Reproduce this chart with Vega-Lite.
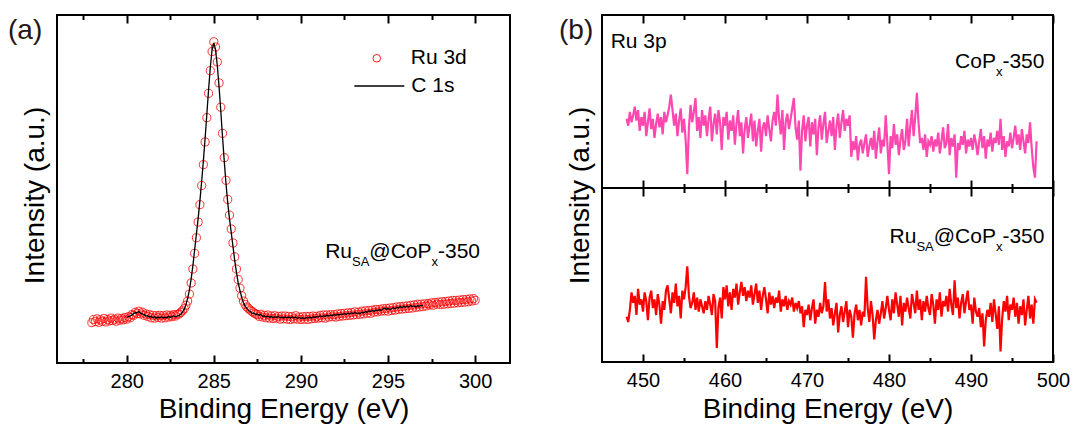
{
  "$schema": "https://vega.github.io/schema/vega-lite/v6.json",
  "background": "white",
  "autosize": {"type": "none"},
  "padding": {"left": 57, "top": 15, "right": 1018, "bottom": 411},
  "bounds": "flush",
  "spacing": 92,
  "config": {
    "view": {"stroke": "black", "strokeWidth": 2},
    "font": "Liberation Sans",
    "axis": {
      "grid": false, "domain": false,
      "labelFont": "Liberation Sans", "labelFontSize": 20, "labelColor": "black", "labelFlush": false,
      "titleFont": "Liberation Sans", "titleFontSize": 28, "titleFontWeight": "normal", "titleColor": "black",
      "tickColor": "black", "tickWidth": 2
    },
    "legend": {"labelFont": "Liberation Sans", "labelFontSize": 21, "labelColor": "black", "padding": 0},
    "text": {"font": "Liberation Sans", "color": "black", "fontSize": 21}
  },
  "datasets": {
    "spec_a": [
      {"e":278.0,"ru":11.6},{"e":278.1,"ru":12.5},{"e":278.2,"ru":11.9},{"e":278.3,"ru":12.7},{"e":278.4,"ru":11.7},{"e":278.5,"ru":12.4},{"e":278.6,"ru":12.0},{"e":278.7,"ru":12.8},{"e":278.8,"ru":11.8},{"e":278.9,"ru":12.5},
      {"e":279.0,"ru":12.1},{"e":279.1,"ru":12.9},{"e":279.2,"ru":12.2},{"e":279.3,"ru":12.6},{"e":279.4,"ru":12.0},{"e":279.5,"ru":12.9},{"e":279.6,"ru":12.3},{"e":279.7,"ru":12.8},{"e":279.8,"ru":12.4},{"e":279.9,"ru":13.1},
      {"e":280.0,"ru":12.6,"c":13.1},{"e":280.1,"ru":13.3,"c":13.3},{"e":280.2,"ru":13.0,"c":13.5},{"e":280.3,"ru":13.9,"c":13.8},{"e":280.4,"ru":13.7,"c":14.2},{"e":280.5,"ru":14.6,"c":14.5},{"e":280.6,"ru":14.2,"c":14.4},{"e":280.7,"ru":14.9,"c":14.8},{"e":280.8,"ru":14.1,"c":14.3},{"e":280.9,"ru":14.6,"c":14.1},
      {"e":281.0,"ru":13.7,"c":13.9},{"e":281.1,"ru":14.1,"c":13.5},{"e":281.2,"ru":13.4,"c":13.6},{"e":281.3,"ru":13.9,"c":13.2},{"e":281.4,"ru":13.0,"c":13.4},{"e":281.5,"ru":13.7,"c":13.0},{"e":281.6,"ru":12.9,"c":13.3},{"e":281.7,"ru":13.6,"c":12.9},{"e":281.8,"ru":13.1,"c":13.2},{"e":281.9,"ru":13.7,"c":13.0},
      {"e":282.0,"ru":12.9,"c":13.3},{"e":282.1,"ru":13.6,"c":12.9},{"e":282.2,"ru":13.0,"c":13.2},{"e":282.3,"ru":13.8,"c":13.0},{"e":282.4,"ru":13.2,"c":13.4},{"e":282.5,"ru":13.7,"c":13.1},{"e":282.6,"ru":13.3,"c":13.3},{"e":282.7,"ru":13.9,"c":13.6},{"e":282.8,"ru":13.5,"c":13.2},{"e":282.9,"ru":14.0,"c":13.5},
      {"e":283.0,"ru":14.1,"c":13.7},{"e":283.1,"ru":14.5,"c":14.0},{"e":283.2,"ru":15.0,"c":14.6},{"e":283.3,"ru":15.6,"c":15.4},{"e":283.4,"ru":16.6,"c":16.8},{"e":283.5,"ru":17.8,"c":18.6},{"e":283.6,"ru":19.8,"c":21.0},{"e":283.7,"ru":23.0,"c":24.2},{"e":283.8,"ru":27.0,"c":28.0},{"e":283.9,"ru":31.5,"c":32.5},
      {"e":284.0,"ru":36.0,"c":37.0},{"e":284.1,"ru":40.5,"c":41.5},{"e":284.2,"ru":45.5,"c":46.5},{"e":284.3,"ru":51.0,"c":52.0},{"e":284.4,"ru":57.0,"c":58.0},{"e":284.5,"ru":63.5,"c":64.5},{"e":284.6,"ru":70.5,"c":71.5},{"e":284.7,"ru":77.5,"c":78.5},{"e":284.8,"ru":84.0,"c":85.0},{"e":284.9,"ru":89.5,"c":90.0},
      {"e":285.0,"ru":92.3,"c":92.0},{"e":285.1,"ru":90.8,"c":90.0},{"e":285.2,"ru":86.5,"c":85.5},{"e":285.3,"ru":80.5,"c":79.5},{"e":285.4,"ru":73.5,"c":72.5},{"e":285.5,"ru":66.0,"c":65.0},{"e":285.6,"ru":59.0,"c":58.0},{"e":285.7,"ru":52.5,"c":51.5},{"e":285.8,"ru":47.0,"c":46.0},{"e":285.9,"ru":42.5,"c":41.5},
      {"e":286.0,"ru":38.5,"c":37.5},{"e":286.1,"ru":34.5,"c":33.5},{"e":286.2,"ru":30.5,"c":29.5},{"e":286.3,"ru":27.0,"c":26.0},{"e":286.4,"ru":24.0,"c":23.0},{"e":286.5,"ru":21.5,"c":20.8},{"e":286.6,"ru":19.3,"c":18.9},{"e":286.7,"ru":17.8,"c":17.4},{"e":286.8,"ru":16.8,"c":16.3},{"e":286.9,"ru":16.1,"c":15.7},
      {"e":287.0,"ru":15.6,"c":15.0},{"e":287.1,"ru":15.2,"c":14.8},{"e":287.2,"ru":14.8,"c":14.2},{"e":287.3,"ru":14.4,"c":14.4},{"e":287.4,"ru":14.1,"c":13.9},{"e":287.5,"ru":13.9,"c":14.1},{"e":287.6,"ru":13.4,"c":13.7},{"e":287.7,"ru":14.0,"c":13.9},{"e":287.8,"ru":13.2,"c":13.4},{"e":287.9,"ru":13.7,"c":13.6},
      {"e":288.0,"ru":13.0,"c":13.2},{"e":288.1,"ru":13.8,"c":13.5},{"e":288.2,"ru":12.9,"c":13.1},{"e":288.3,"ru":13.5,"c":13.4},{"e":288.4,"ru":12.8,"c":13.0},{"e":288.5,"ru":13.6,"c":13.3},{"e":288.6,"ru":12.9,"c":13.1},{"e":288.7,"ru":13.4,"c":13.4},{"e":288.8,"ru":12.6,"c":13.0},{"e":288.9,"ru":13.5,"c":13.2},
      {"e":289.0,"ru":12.7,"c":12.9},{"e":289.1,"ru":13.5,"c":13.3},{"e":289.2,"ru":12.6,"c":13.0},{"e":289.3,"ru":13.4,"c":13.2},{"e":289.4,"ru":12.5,"c":12.9},{"e":289.5,"ru":13.3,"c":13.3},{"e":289.6,"ru":12.7,"c":13.0},{"e":289.7,"ru":13.6,"c":13.2},{"e":289.8,"ru":12.6,"c":12.8},{"e":289.9,"ru":13.2,"c":13.1},
      {"e":290.0,"ru":12.5,"c":12.8},{"e":290.1,"ru":13.3,"c":13.0},{"e":290.2,"ru":12.6,"c":12.7},{"e":290.3,"ru":13.4,"c":13.1},{"e":290.4,"ru":12.5,"c":12.9},{"e":290.5,"ru":13.4,"c":13.2},{"e":290.6,"ru":12.7,"c":12.9},{"e":290.7,"ru":13.5,"c":13.3},{"e":290.8,"ru":12.8,"c":13.1},{"e":290.9,"ru":13.4,"c":13.4},
      {"e":291.0,"ru":12.9,"c":13.2},{"e":291.1,"ru":13.7,"c":13.5},{"e":291.2,"ru":13.0,"c":13.3},{"e":291.3,"ru":13.8,"c":13.6},{"e":291.4,"ru":12.9,"c":13.4},{"e":291.5,"ru":13.8,"c":13.7},{"e":291.6,"ru":13.2,"c":13.5},{"e":291.7,"ru":13.9,"c":13.8},{"e":291.8,"ru":13.3,"c":13.6},{"e":291.9,"ru":13.9,"c":13.9},
      {"e":292.0,"ru":13.2,"c":13.7},{"e":292.1,"ru":14.1,"c":14.0},{"e":292.2,"ru":13.4,"c":13.8},{"e":292.3,"ru":14.2,"c":14.1},{"e":292.4,"ru":13.5,"c":13.9},{"e":292.5,"ru":14.3,"c":14.2},{"e":292.6,"ru":13.6,"c":14.0},{"e":292.7,"ru":14.4,"c":14.3},{"e":292.8,"ru":13.7,"c":14.1},{"e":292.9,"ru":14.5,"c":14.4},
      {"e":293.0,"ru":13.8,"c":14.2},{"e":293.1,"ru":14.7,"c":14.5},{"e":293.2,"ru":13.9,"c":14.2},{"e":293.3,"ru":14.6,"c":14.4},{"e":293.4,"ru":14.0,"c":14.2},{"e":293.5,"ru":14.9,"c":14.6},{"e":293.6,"ru":14.1,"c":14.4},{"e":293.7,"ru":15.0,"c":14.8},{"e":293.8,"ru":14.3,"c":14.6},{"e":293.9,"ru":15.1,"c":15.0},
      {"e":294.0,"ru":14.3,"c":14.8},{"e":294.1,"ru":15.2,"c":15.1},{"e":294.2,"ru":14.6,"c":14.8},{"e":294.3,"ru":15.4,"c":15.2},{"e":294.4,"ru":14.7,"c":15.0},{"e":294.5,"ru":15.4,"c":15.4},{"e":294.6,"ru":14.9,"c":15.1},{"e":294.7,"ru":15.6,"c":15.5},{"e":294.8,"ru":15.0,"c":15.8},{"e":294.9,"ru":15.7,"c":15.4},
      {"e":295.0,"ru":14.9,"c":15.7},{"e":295.1,"ru":15.8,"c":15.3},{"e":295.2,"ru":15.1,"c":15.6},{"e":295.3,"ru":15.9,"c":15.9},{"e":295.4,"ru":15.2,"c":15.6},{"e":295.5,"ru":16.1,"c":16.0},{"e":295.6,"ru":15.4,"c":15.8},{"e":295.7,"ru":16.2,"c":16.2},{"e":295.8,"ru":15.5,"c":15.9},{"e":295.9,"ru":16.3,"c":16.3},
      {"e":296.0,"ru":15.6,"c":16.0},{"e":296.1,"ru":16.4,"c":16.4},{"e":296.2,"ru":15.7,"c":16.1},{"e":296.3,"ru":16.6,"c":16.5},{"e":296.4,"ru":15.8,"c":16.2},{"e":296.5,"ru":16.7,"c":16.4},{"e":296.6,"ru":16.0,"c":16.1},{"e":296.7,"ru":16.9,"c":16.5},{"e":296.8,"ru":16.1,"c":16.3},{"e":296.9,"ru":16.9,"c":16.6},
      {"e":297.0,"ru":16.2,"c":16.4},{"e":297.1,"ru":17.0},{"e":297.2,"ru":16.4},{"e":297.3,"ru":17.1},{"e":297.4,"ru":16.7},{"e":297.5,"ru":17.3},{"e":297.6,"ru":16.6},{"e":297.7,"ru":17.4},{"e":297.8,"ru":16.9},{"e":297.9,"ru":17.5},
      {"e":298.0,"ru":16.8},{"e":298.1,"ru":17.6},{"e":298.2,"ru":16.9},{"e":298.3,"ru":17.7},{"e":298.4,"ru":17.0},{"e":298.5,"ru":17.8},{"e":298.6,"ru":17.1},{"e":298.7,"ru":18.0},{"e":298.8,"ru":17.2},{"e":298.9,"ru":18.0},
      {"e":299.0,"ru":17.3},{"e":299.1,"ru":18.1},{"e":299.2,"ru":17.4},{"e":299.3,"ru":18.2},{"e":299.4,"ru":17.5},{"e":299.5,"ru":18.3},{"e":299.6,"ru":17.6},{"e":299.7,"ru":18.4},{"e":299.8,"ru":17.8},{"e":299.9,"ru":18.5},
      {"e":300.0,"ru":18.0}
    ],
    "spec_b": [
      {"e":448.0,"p":40,"r":26},{"e":448.2,"p":36,"r":23},{"e":448.4,"p":44,"r":30},{"e":448.6,"p":38,"r":40},{"e":448.8,"p":42,"r":34},
      {"e":449.0,"p":47,"r":38},{"e":449.2,"p":39,"r":27},{"e":449.4,"p":45,"r":42},{"e":449.6,"p":33,"r":33},{"e":449.8,"p":41,"r":36},
      {"e":450.0,"p":36,"r":29},{"e":450.2,"p":44,"r":40},{"e":450.4,"p":30,"r":35},{"e":450.6,"p":38,"r":24},{"e":450.8,"p":46,"r":37},
      {"e":451.0,"p":34,"r":41},{"e":451.2,"p":40,"r":31},{"e":451.4,"p":29,"r":36},{"e":451.6,"p":37,"r":27},{"e":451.8,"p":43,"r":39},
      {"e":452.0,"p":35,"r":33},{"e":452.2,"p":41,"r":22},{"e":452.4,"p":31,"r":35},{"e":452.6,"p":44,"r":30},{"e":452.8,"p":38,"r":41},
      {"e":453.0,"p":42,"r":44},{"e":453.2,"p":47,"r":36},{"e":453.4,"p":54,"r":28},{"e":453.6,"p":45,"r":40},{"e":453.8,"p":36,"r":34},
      {"e":454.0,"p":43,"r":45},{"e":454.2,"p":30,"r":32},{"e":454.4,"p":39,"r":38},{"e":454.6,"p":46,"r":25},{"e":454.8,"p":32,"r":41},
      {"e":455.0,"p":40,"r":36},{"e":455.2,"p":28,"r":43},{"e":455.4,"p":8,"r":55},{"e":455.6,"p":35,"r":38},{"e":455.8,"p":48,"r":31},
      {"e":456.0,"p":38,"r":34},{"e":456.2,"p":44,"r":40},{"e":456.4,"p":52,"r":30},{"e":456.6,"p":33,"r":37},{"e":456.8,"p":41,"r":29},
      {"e":457.0,"p":29,"r":36},{"e":457.2,"p":45,"r":32},{"e":457.4,"p":36,"r":28},{"e":457.6,"p":42,"r":35},{"e":457.8,"p":30,"r":30},
      {"e":458.0,"p":40,"r":38},{"e":458.2,"p":47,"r":33},{"e":458.4,"p":27,"r":27},{"e":458.6,"p":37,"r":39},{"e":458.8,"p":43,"r":35},
      {"e":459.0,"p":31,"r":8},{"e":459.2,"p":45,"r":31},{"e":459.4,"p":38,"r":37},{"e":459.6,"p":22,"r":25},{"e":459.8,"p":41,"r":43},
      {"e":460.0,"p":36,"r":36},{"e":460.2,"p":44,"r":44},{"e":460.4,"p":28,"r":32},{"e":460.6,"p":39,"r":40},{"e":460.8,"p":33,"r":30},
      {"e":461.0,"p":42,"r":42},{"e":461.2,"p":25,"r":37},{"e":461.4,"p":37,"r":45},{"e":461.6,"p":45,"r":33},{"e":461.8,"p":30,"r":40},
      {"e":462.0,"p":38,"r":46},{"e":462.2,"p":20,"r":38},{"e":462.4,"p":34,"r":43},{"e":462.6,"p":41,"r":35},{"e":462.8,"p":29,"r":41},
      {"e":463.0,"p":36,"r":37},{"e":463.2,"p":43,"r":44},{"e":463.4,"p":27,"r":33},{"e":463.6,"p":39,"r":39},{"e":463.8,"p":24,"r":45},
      {"e":464.0,"p":33,"r":34},{"e":464.2,"p":40,"r":41},{"e":464.4,"p":21,"r":30},{"e":464.6,"p":35,"r":38},{"e":464.8,"p":38,"r":43},
      {"e":465.0,"p":30,"r":36},{"e":465.2,"p":42,"r":28},{"e":465.4,"p":34,"r":40},{"e":465.6,"p":27,"r":33},{"e":465.8,"p":39,"r":38},
      {"e":466.0,"p":44,"r":31},{"e":466.2,"p":36,"r":37},{"e":466.4,"p":54,"r":34},{"e":466.6,"p":40,"r":41},{"e":466.8,"p":31,"r":29},
      {"e":467.0,"p":45,"r":36},{"e":467.2,"p":22,"r":32},{"e":467.4,"p":38,"r":38},{"e":467.6,"p":43,"r":30},{"e":467.8,"p":34,"r":35},
      {"e":468.0,"p":40,"r":33},{"e":468.2,"p":46,"r":37},{"e":468.4,"p":52,"r":29},{"e":468.6,"p":35,"r":34},{"e":468.8,"p":28,"r":31},
      {"e":469.0,"p":39,"r":35},{"e":469.2,"p":10,"r":28},{"e":469.4,"p":33,"r":32},{"e":469.6,"p":42,"r":20},{"e":469.8,"p":27,"r":30},
      {"e":470.0,"p":36,"r":27},{"e":470.2,"p":41,"r":33},{"e":470.4,"p":24,"r":24},{"e":470.6,"p":38,"r":31},{"e":470.8,"p":31,"r":36},
      {"e":471.0,"p":40,"r":22},{"e":471.2,"p":19,"r":30},{"e":471.4,"p":35,"r":26},{"e":471.6,"p":42,"r":34},{"e":471.8,"p":28,"r":28},
      {"e":472.0,"p":37,"r":32},{"e":472.2,"p":44,"r":46},{"e":472.4,"p":26,"r":29},{"e":472.6,"p":33,"r":36},{"e":472.8,"p":39,"r":25},
      {"e":473.0,"p":30,"r":31},{"e":473.2,"p":41,"r":21},{"e":473.4,"p":22,"r":28},{"e":473.6,"p":36,"r":34},{"e":473.8,"p":43,"r":17},
      {"e":474.0,"p":29,"r":27},{"e":474.2,"p":38,"r":32},{"e":474.4,"p":45,"r":23},{"e":474.6,"p":33,"r":29},{"e":474.8,"p":40,"r":35},
      {"e":475.0,"p":36,"r":20},{"e":475.2,"p":42,"r":30},{"e":475.4,"p":18,"r":26},{"e":475.6,"p":27,"r":14},{"e":475.8,"p":22,"r":28},
      {"e":476.0,"p":30,"r":33},{"e":476.2,"p":16,"r":24},{"e":476.4,"p":25,"r":30},{"e":476.6,"p":28,"r":21},{"e":476.8,"p":20,"r":29},
      {"e":477.0,"p":26,"r":26},{"e":477.2,"p":31,"r":49},{"e":477.4,"p":18,"r":31},{"e":477.6,"p":24,"r":23},{"e":477.8,"p":29,"r":35},
      {"e":478.0,"p":22,"r":27},{"e":478.2,"p":33,"r":13},{"e":478.4,"p":17,"r":24},{"e":478.6,"p":27,"r":30},{"e":478.8,"p":35,"r":22},
      {"e":479.0,"p":20,"r":28},{"e":479.2,"p":28,"r":35},{"e":479.4,"p":24,"r":25},{"e":479.6,"p":42,"r":31},{"e":479.8,"p":26,"r":38},
      {"e":480.0,"p":8,"r":30},{"e":480.2,"p":30,"r":24},{"e":480.4,"p":23,"r":36},{"e":480.6,"p":37,"r":28},{"e":480.8,"p":25,"r":40},
      {"e":481.0,"p":31,"r":33},{"e":481.2,"p":19,"r":26},{"e":481.4,"p":28,"r":38},{"e":481.6,"p":34,"r":21},{"e":481.8,"p":22,"r":34},
      {"e":482.0,"p":27,"r":29},{"e":482.2,"p":40,"r":37},{"e":482.4,"p":24,"r":31},{"e":482.6,"p":36,"r":25},{"e":482.8,"p":45,"r":39},
      {"e":483.0,"p":30,"r":34},{"e":483.2,"p":41,"r":28},{"e":483.4,"p":55,"r":41},{"e":483.6,"p":38,"r":30},{"e":483.8,"p":26,"r":36},
      {"e":484.0,"p":29,"r":24},{"e":484.2,"p":22,"r":35},{"e":484.4,"p":31,"r":29},{"e":484.6,"p":18,"r":38},{"e":484.8,"p":27,"r":31},
      {"e":485.0,"p":25,"r":27},{"e":485.2,"p":30,"r":39},{"e":485.4,"p":21,"r":33},{"e":485.6,"p":28,"r":22},{"e":485.8,"p":24,"r":36},
      {"e":486.0,"p":32,"r":30},{"e":486.2,"p":20,"r":40},{"e":486.4,"p":27,"r":26},{"e":486.6,"p":35,"r":35},{"e":486.8,"p":23,"r":32},
      {"e":487.0,"p":26,"r":38},{"e":487.2,"p":37,"r":29},{"e":487.4,"p":19,"r":42},{"e":487.6,"p":29,"r":33},{"e":487.8,"p":24,"r":27},
      {"e":488.0,"p":31,"r":47},{"e":488.2,"p":6,"r":31},{"e":488.4,"p":26,"r":37},{"e":488.6,"p":22,"r":25},{"e":488.8,"p":30,"r":34},
      {"e":489.0,"p":25,"r":39},{"e":489.2,"p":33,"r":28},{"e":489.4,"p":20,"r":35},{"e":489.6,"p":28,"r":41},{"e":489.8,"p":24,"r":30},
      {"e":490.0,"p":29,"r":33},{"e":490.2,"p":22,"r":22},{"e":490.4,"p":31,"r":37},{"e":490.6,"p":26,"r":29},{"e":490.8,"p":19,"r":26},
      {"e":491.0,"p":27,"r":31},{"e":491.2,"p":34,"r":20},{"e":491.4,"p":23,"r":28},{"e":491.6,"p":30,"r":9},{"e":491.8,"p":17,"r":24},
      {"e":492.0,"p":28,"r":30},{"e":492.2,"p":24,"r":26},{"e":492.4,"p":32,"r":34},{"e":492.6,"p":21,"r":23},{"e":492.8,"p":29,"r":36},
      {"e":493.0,"p":26,"r":28},{"e":493.2,"p":33,"r":19},{"e":493.4,"p":25,"r":32},{"e":493.6,"p":40,"r":6},{"e":493.8,"p":22,"r":25},
      {"e":494.0,"p":30,"r":35},{"e":494.2,"p":18,"r":29},{"e":494.4,"p":27,"r":38},{"e":494.6,"p":24,"r":24},{"e":494.8,"p":32,"r":33},
      {"e":495.0,"p":23,"r":30},{"e":495.2,"p":29,"r":37},{"e":495.4,"p":36,"r":26},{"e":495.6,"p":25,"r":34},{"e":495.8,"p":31,"r":22},
      {"e":496.0,"p":22,"r":32},{"e":496.2,"p":34,"r":27},{"e":496.4,"p":27,"r":36},{"e":496.6,"p":20,"r":21},{"e":496.8,"p":31,"r":30},
      {"e":497.0,"p":26,"r":38},{"e":497.2,"p":38,"r":25},{"e":497.4,"p":23,"r":33},{"e":497.6,"p":12,"r":22},{"e":497.8,"p":6,"r":36},
      {"e":498.0,"p":27,"r":34}
    ]
  },
  "hconcat": [
    {
      "width": 453,
      "height": 348,
      "title": {"text": "(a)", "anchor": "start", "frame": "group", "orient": "top", "offset": 0, "dx": -49, "dy": 53, "baseline": "alphabetic", "font": "Liberation Sans", "fontSize": 28, "fontWeight": "normal", "color": "#231815"},
      "data": {"name": "spec_a"},
      "resolve": {"axis": {"x": "independent"}},
      "layer": [
        {
          "mark": {"type": "point", "filled": false, "color": "#ff0000", "size": 66, "strokeWidth": 1, "opacity": 0.8},
          "encoding": {
            "x": {"field": "e", "type": "quantitative", "scale": {"domain": [276, 302], "nice": false, "zero": false},
                  "axis": {"orient": "bottom", "values": [280, 285, 290, 295, 300], "tickSize": -8, "labelPadding": 32, "labelBaseline": "alphabetic", "title": "Binding Energy (eV)", "titleY": 54, "titleBaseline": "alphabetic"}},
            "y": {"field": "ru", "type": "quantitative", "scale": {"domain": [0, 100], "nice": false, "zero": false},
                  "axis": {"title": "Intensity (a.u.)", "labels": false, "ticks": false, "titleX": -14, "titleY": 180, "titleAngle": -90, "titleAlign": "center", "titleBaseline": "alphabetic"}},
            "shape": {"datum": "Ru 3d", "type": "nominal", "scale": {"domain": ["Ru 3d"], "range": ["circle"]},
                      "legend": {"title": null, "orient": "none", "legendX": 309.25, "legendY": 29.3, "symbolSize": 58, "symbolStrokeWidth": 0.9,
                                 "symbolStrokeColor": "#ff0000", "symbolFillColor": "transparent", "symbolOpacity": 1, "clipHeight": 28, "labelOffset": 23.5}}
          }
        },
        {
          "mark": {"type": "line", "strokeWidth": 1.3},
          "encoding": {
            "x": {"field": "e", "type": "quantitative", "axis": {"orient": "top", "values": [280, 285, 290, 295, 300], "tickSize": -8, "labels": false, "title": null}},
            "y": {"field": "c", "type": "quantitative", "axis": {"title": "Intensity (a.u.)", "labels": false, "ticks": false, "titleX": -14, "titleY": 180, "titleAngle": -90, "titleAlign": "center", "titleBaseline": "alphabetic"}},
            "color": {"datum": "C 1s", "type": "nominal", "scale": {"domain": ["C 1s"], "range": ["#000000"]},
                      "legend": {"title": null, "orient": "none", "legendX": 296.35, "legendY": 57, "symbolType": "stroke", "symbolSize": 2500, "symbolStrokeWidth": 1.3,
                                 "clipHeight": 28, "labelOffset": 6}}
          }
        },
        {
          "data": {"values": [{}]},
          "mark": {"type": "text", "align": "right", "baseline": "alphabetic", "fontSize": 21, "dx": 0},
          "encoding": {
            "x": {"datum": 300.28, "type": "quantitative", "axis": {"orient": "bottom", "values": [277.5, 282.5, 287.5, 292.5, 297.5], "tickSize": -4.5, "labels": false, "title": null}},
            "y": {"datum": 30.1, "type": "quantitative"},
            "text": {"value": "-350"}
          }
        },
        {
          "data": {"values": [{}]},
          "mark": {"type": "text", "align": "right", "baseline": "alphabetic", "fontSize": 13, "dx": -42, "dy": 8},
          "encoding": {
            "x": {"datum": 300.28, "type": "quantitative", "axis": {"orient": "top", "values": [277.5, 282.5, 287.5, 292.5, 297.5], "tickSize": -4.5, "labels": false, "title": null}},
            "y": {"datum": 30.1, "type": "quantitative"},
            "text": {"value": "x"}
          }
        },
        {
          "data": {"values": [{}]},
          "mark": {"type": "text", "align": "right", "baseline": "alphabetic", "fontSize": 21, "dx": -48.5},
          "encoding": {
            "x": {"datum": 300.28, "type": "quantitative", "axis": null},
            "y": {"datum": 30.1, "type": "quantitative"},
            "text": {"value": "@CoP"}
          }
        },
        {
          "data": {"values": [{}]},
          "mark": {"type": "text", "align": "right", "baseline": "alphabetic", "fontSize": 13, "dx": -110.7, "dy": 8},
          "encoding": {
            "x": {"datum": 300.28, "type": "quantitative", "axis": null},
            "y": {"datum": 30.1, "type": "quantitative"},
            "text": {"value": "SA"}
          }
        },
        {
          "data": {"values": [{}]},
          "mark": {"type": "text", "align": "right", "baseline": "alphabetic", "fontSize": 21, "dx": -128},
          "encoding": {
            "x": {"datum": 300.28, "type": "quantitative", "axis": null},
            "y": {"datum": 30.1, "type": "quantitative"},
            "text": {"value": "Ru"}
          }
        }
      ]
    },
    {
      "bounds": "flush",
      "spacing": 0,
      "vconcat": [
        {
          "width": 451,
          "height": 173,
          "title": {"text": "(b)", "anchor": "start", "frame": "group", "orient": "top", "offset": 0, "dx": -43, "dy": 53, "baseline": "alphabetic", "font": "Liberation Sans", "fontSize": 28, "fontWeight": "normal", "color": "#231815"},
          "data": {"name": "spec_b"},
          "resolve": {"axis": {"x": "independent"}},
          "layer": [
            {
              "mark": {"type": "line", "color": "#ff47b0", "strokeWidth": 2.2},
              "encoding": {
                "x": {"field": "e", "type": "quantitative", "scale": {"domain": [445, 500], "nice": false, "zero": false},
                      "axis": {"orient": "bottom", "values": [450, 460, 470, 480, 490, 500], "tickSize": -8, "labels": false, "title": null}},
                "y": {"field": "p", "type": "quantitative", "scale": {"domain": [0, 100], "nice": false, "zero": false},
                      "axis": {"title": "Intensity (a.u.)", "labels": false, "ticks": false, "titleX": -14, "titleY": 180, "titleAngle": -90, "titleAlign": "center", "titleBaseline": "alphabetic"}}
              }
            },
            {
              "data": {"values": [{}]},
              "mark": {"type": "text", "align": "left", "baseline": "alphabetic", "fontSize": 21},
              "encoding": {
                "x": {"datum": 446.06, "type": "quantitative", "axis": {"orient": "top", "values": [450, 460, 470, 480, 490, 500], "tickSize": -8, "labels": false, "title": null}},
                "y": {"datum": 81.1, "type": "quantitative"},
                "text": {"value": "Ru 3p"}
              }
            },
            {
              "data": {"values": [{}]},
              "mark": {"type": "text", "align": "right", "baseline": "alphabetic", "fontSize": 21, "dx": 0},
              "encoding": {
                "x": {"datum": 498.96, "type": "quantitative", "axis": {"orient": "bottom", "values": [455, 465, 475, 485, 495], "tickSize": -4.5, "labels": false, "title": null}},
                "y": {"datum": 69.65, "type": "quantitative"},
                "text": {"value": "-350"}
              }
            },
            {
              "data": {"values": [{}]},
              "mark": {"type": "text", "align": "right", "baseline": "alphabetic", "fontSize": 13, "dx": -42, "dy": 8},
              "encoding": {
                "x": {"datum": 498.96, "type": "quantitative", "axis": {"orient": "top", "values": [455, 465, 475, 485, 495], "tickSize": -4.5, "labels": false, "title": null}},
                "y": {"datum": 69.65, "type": "quantitative"},
                "text": {"value": "x"}
              }
            },
            {
              "data": {"values": [{}]},
              "mark": {"type": "text", "align": "right", "baseline": "alphabetic", "fontSize": 21, "dx": -48.5},
              "encoding": {
                "x": {"datum": 498.96, "type": "quantitative", "axis": null},
                "y": {"datum": 69.65, "type": "quantitative"},
                "text": {"value": "CoP"}
              }
            }
          ]
        },
        {
          "width": 451,
          "height": 174,
          "data": {"name": "spec_b"},
          "resolve": {"axis": {"x": "independent"}},
          "layer": [
            {
              "mark": {"type": "line", "color": "#ff0000", "strokeWidth": 2.2},
              "encoding": {
                "x": {"field": "e", "type": "quantitative", "scale": {"domain": [445, 500], "nice": false, "zero": false},
                      "axis": {"orient": "bottom", "values": [450, 460, 470, 480, 490, 500], "tickSize": -8, "labelPadding": 32.7, "labelBaseline": "alphabetic", "title": "Binding Energy (eV)", "titleY": 55, "titleBaseline": "alphabetic"}},
                "y": {"field": "r", "type": "quantitative", "scale": {"domain": [0, 100], "nice": false, "zero": false}, "axis": null}
              }
            },
            {
              "data": {"values": [{}]},
              "mark": {"type": "text", "align": "right", "baseline": "alphabetic", "fontSize": 21, "dx": 0},
              "encoding": {
                "x": {"datum": 498.96, "type": "quantitative", "axis": {"orient": "top", "values": [450, 460, 470, 480, 490, 500], "tickSize": -8, "labels": false, "title": null}},
                "y": {"datum": 68.4, "type": "quantitative", "axis": null},
                "text": {"value": "-350"}
              }
            },
            {
              "data": {"values": [{}]},
              "mark": {"type": "text", "align": "right", "baseline": "alphabetic", "fontSize": 13, "dx": -42, "dy": 8},
              "encoding": {
                "x": {"datum": 498.96, "type": "quantitative", "axis": {"orient": "bottom", "values": [455, 465, 475, 485, 495], "tickSize": -4.5, "labels": false, "title": null}},
                "y": {"datum": 68.4, "type": "quantitative", "axis": null},
                "text": {"value": "x"}
              }
            },
            {
              "data": {"values": [{}]},
              "mark": {"type": "text", "align": "right", "baseline": "alphabetic", "fontSize": 21, "dx": -48.5},
              "encoding": {
                "x": {"datum": 498.96, "type": "quantitative", "axis": {"orient": "top", "values": [455, 465, 475, 485, 495], "tickSize": -4.5, "labels": false, "title": null}},
                "y": {"datum": 68.4, "type": "quantitative", "axis": null},
                "text": {"value": "@CoP"}
              }
            },
            {
              "data": {"values": [{}]},
              "mark": {"type": "text", "align": "right", "baseline": "alphabetic", "fontSize": 13, "dx": -110.7, "dy": 8},
              "encoding": {
                "x": {"datum": 498.96, "type": "quantitative", "axis": null},
                "y": {"datum": 68.4, "type": "quantitative", "axis": null},
                "text": {"value": "SA"}
              }
            },
            {
              "data": {"values": [{}]},
              "mark": {"type": "text", "align": "right", "baseline": "alphabetic", "fontSize": 21, "dx": -128},
              "encoding": {
                "x": {"datum": 498.96, "type": "quantitative", "axis": null},
                "y": {"datum": 68.4, "type": "quantitative", "axis": null},
                "text": {"value": "Ru"}
              }
            }
          ]
        }
      ]
    }
  ]
}
